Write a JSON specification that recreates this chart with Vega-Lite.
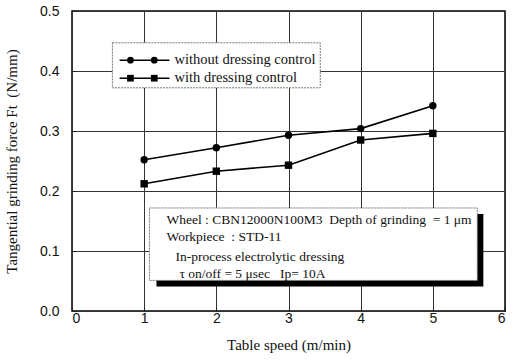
{
  "$schema": "https://vega.github.io/schema/vega-lite/v6.json",
  "width": 433,
  "height": 300,
  "autosize": {"type": "none"},
  "padding": {"left": 72, "top": 11, "right": 8, "bottom": 50},
  "background": "white",
  "config": {
    "view": {"stroke": "black", "strokeWidth": 1.5},
    "axis": {"domain": false, "labelFont": "Liberation Sans", "labelFontSize": 14, "labelColor": "#111", "titleFont": "Liberation Serif", "titleFontSize": 15, "titleFontWeight": "normal", "titleColor": "#111", "tickColor": "#222", "tickSize": -4, "gridColor": "#333", "gridWidth": 1}
  },
  "datasets": {
    "main": [
      {"speed": 1, "force": 0.252, "series": "without dressing control"},
      {"speed": 2, "force": 0.272, "series": "without dressing control"},
      {"speed": 3, "force": 0.293, "series": "without dressing control"},
      {"speed": 4, "force": 0.304, "series": "without dressing control"},
      {"speed": 5, "force": 0.342, "series": "without dressing control"},
      {"speed": 1, "force": 0.212, "series": "with dressing control"},
      {"speed": 2, "force": 0.233, "series": "with dressing control"},
      {"speed": 3, "force": 0.243, "series": "with dressing control"},
      {"speed": 4, "force": 0.285, "series": "with dressing control"},
      {"speed": 5, "force": 0.296, "series": "with dressing control"}
    ]
  },
  "data": {"name": "main"},
  "layer": [
    {
      "mark": {"type": "line", "color": "black", "strokeWidth": 1.6},
      "encoding": {
        "x": {"field": "speed", "type": "quantitative", "scale": {"domain": [0, 6], "nice": false, "zero": false},
          "axis": {"values": [0, 0.5, 1, 1.5, 2, 2.5, 3, 3.5, 4, 4.5, 5, 5.5, 6], "labelExpr": "datum.value % 1 === 0 ? datum.value : ''", "labelPadding": 4, "title": "Table speed (m/min)", "titlePadding": 12,
            "gridOpacity": {"condition": {"test": "datum.value % 1 !== 0", "value": 0}, "value": 1}}},
        "y": {"field": "force", "type": "quantitative", "scale": {"domain": [0, 0.5], "nice": false},
          "axis": {"values": [0, 0.05, 0.1, 0.15, 0.2, 0.25, 0.3, 0.35, 0.4, 0.45, 0.5], "labelExpr": "abs(round(datum.value*10) - datum.value*10) < 0.001 ? format(datum.value, '.1f') : ''", "labelPadding": 17, "title": "Tangential grinding force Ft\u00a0\u00a0(N/mm)", "titlePadding": 20,
            "gridOpacity": {"condition": {"test": "abs(round(datum.value*10) - datum.value*10) > 0.001", "value": 0}, "value": 1}}},
        "detail": {"field": "series", "type": "nominal"}
      }
    },
    {
      "mark": {"type": "point", "filled": true, "color": "black", "opacity": 1, "size": 55},
      "encoding": {
        "x": {"field": "speed", "type": "quantitative"},
        "y": {"field": "force", "type": "quantitative"},
        "shape": {"field": "series", "type": "nominal", "scale": {"domain": ["without dressing control", "with dressing control"], "range": ["circle", "square"]}, "legend": null}
      }
    },
    {
      "data": {"values": [{}]},
      "mark": {"type": "rect", "fill": "white", "stroke": "#777", "strokeWidth": 1, "strokeDash": [2, 1]},
      "encoding": {"x": {"datum": 0.56}, "x2": {"datum": 3.44}, "y": {"datum": 0.447}, "y2": {"datum": 0.372}}
    },
    {
      "data": {"values": [{}]},
      "mark": {"type": "rule", "color": "black", "strokeWidth": 1.6},
      "encoding": {"x": {"datum": 0.66}, "x2": {"datum": 1.35}, "y": {"datum": 0.418}}
    },
    {
      "data": {"values": [{}]},
      "mark": {"type": "rule", "color": "black", "strokeWidth": 1.6},
      "encoding": {"x": {"datum": 0.66}, "x2": {"datum": 1.35}, "y": {"datum": 0.388}}
    },
    {
      "data": {"values": [{}]},
      "mark": {"type": "point", "shape": "circle", "filled": true, "color": "black", "opacity": 1, "size": 45},
      "encoding": {"x": {"datum": 0.81}, "y": {"datum": 0.418}}
    },
    {
      "data": {"values": [{}]},
      "mark": {"type": "point", "shape": "circle", "filled": true, "color": "black", "opacity": 1, "size": 45},
      "encoding": {"x": {"datum": 1.14}, "y": {"datum": 0.418}}
    },
    {
      "data": {"values": [{}]},
      "mark": {"type": "point", "shape": "square", "filled": true, "color": "black", "opacity": 1, "size": 45},
      "encoding": {"x": {"datum": 0.81}, "y": {"datum": 0.388}}
    },
    {
      "data": {"values": [{}]},
      "mark": {"type": "point", "shape": "square", "filled": true, "color": "black", "opacity": 1, "size": 45},
      "encoding": {"x": {"datum": 1.14}, "y": {"datum": 0.388}}
    },
    {
      "data": {"values": [{}]},
      "mark": {"type": "text", "align": "left", "baseline": "middle", "font": "Liberation Serif", "fontSize": 14.5, "color": "#111"},
      "encoding": {"x": {"datum": 1.42}, "y": {"datum": 0.419}, "text": {"value": "without dressing control"}}
    },
    {
      "data": {"values": [{}]},
      "mark": {"type": "text", "align": "left", "baseline": "middle", "font": "Liberation Serif", "fontSize": 14.5, "color": "#111"},
      "encoding": {"x": {"datum": 1.42}, "y": {"datum": 0.389}, "text": {"value": "with dressing control"}}
    },
    {
      "data": {"values": [{}]},
      "mark": {"type": "rect", "fill": "black"},
      "encoding": {"x": {"datum": 1.17}, "x2": {"datum": 5.70}, "y": {"datum": 0.1617}, "y2": {"datum": 0.041}}
    },
    {
      "data": {"values": [{}]},
      "mark": {"type": "rect", "fill": "white", "stroke": "#777", "strokeWidth": 1, "strokeDash": [2, 1]},
      "encoding": {"x": {"datum": 1.073}, "x2": {"datum": 5.616}, "y": {"datum": 0.1717}, "y2": {"datum": 0.051}}
    },
    {
      "data": {"values": [{}]},
      "mark": {"type": "text", "align": "left", "baseline": "middle", "font": "Liberation Serif", "fontSize": 13.5, "color": "#111"},
      "encoding": {"x": {"datum": 1.309}, "y": {"datum": 0.152}, "text": {"value": "Wheel : CBN12000N100M3\u00a0\u00a0Depth of grinding\u00a0\u00a0= 1 μm"}}
    },
    {
      "data": {"values": [{}]},
      "mark": {"type": "text", "align": "left", "baseline": "middle", "font": "Liberation Serif", "fontSize": 13.5, "color": "#111"},
      "encoding": {"x": {"datum": 1.309}, "y": {"datum": 0.123}, "text": {"value": "Workpiece\u00a0\u00a0: STD-11"}}
    },
    {
      "data": {"values": [{}]},
      "mark": {"type": "text", "align": "left", "baseline": "middle", "font": "Liberation Serif", "fontSize": 13.5, "color": "#111"},
      "encoding": {"x": {"datum": 1.434}, "y": {"datum": 0.09}, "text": {"value": "In-process electrolytic dressing"}}
    },
    {
      "data": {"values": [{}]},
      "mark": {"type": "text", "align": "left", "baseline": "middle", "font": "Liberation Serif", "fontSize": 13.5, "color": "#111"},
      "encoding": {"x": {"datum": 1.489}, "y": {"datum": 0.061}, "text": {"value": "τ on/off = 5 μsec\u00a0\u00a0\u00a0Ip= 10A"}}
    }
  ]
}
